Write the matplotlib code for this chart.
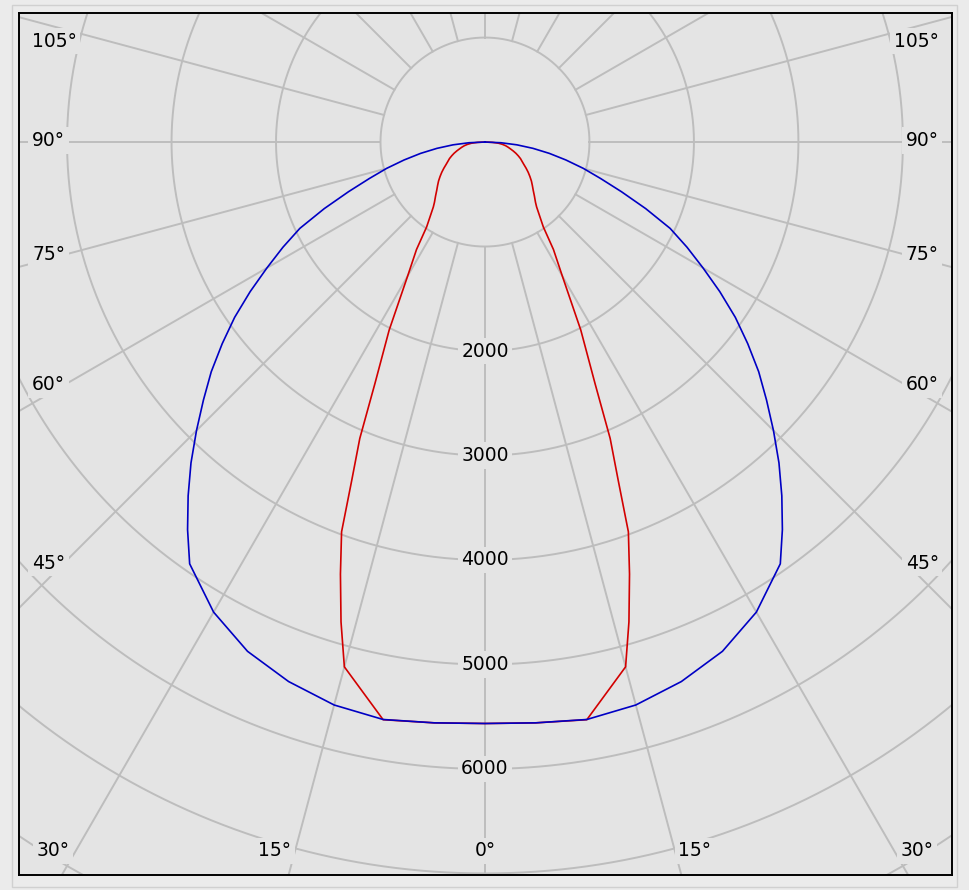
import numpy as np
import matplotlib.pyplot as plt
from matplotlib.patches import Rectangle

# luminous intensity (cd) against gamma angle (deg from nadir)
c0_gamma = [0, 5, 10, 15, 20, 25, 30, 35, 37.5, 40, 42.5, 45, 47.5, 50, 52.5, 55,
            57.5, 60, 62.5, 65, 67.5, 70, 72.5, 75, 77.5, 80, 82.5, 85, 87.5, 90]
c0_cd = [5565, 5580, 5612, 5578, 5495, 5378, 5195, 4928, 4676, 4420, 4165, 3905,
         3655, 3420, 3170, 2925, 2665, 2410, 2180, 1955, 1665, 1390, 1160, 975,
         793, 626, 464, 307, 153, 0]

c90_gamma = [0, 5, 10, 15, 16.7, 18.5, 20.2, 21.5, 22.9, 24.5, 27, 30, 32.5, 34.5,
             38.5, 40, 42.5, 45, 47.5, 50, 52.5, 55, 57.5, 60, 62.5, 65, 67.5, 70,
             72.5, 75, 77.5, 80, 82.5, 85, 87.5, 90]
c90_cd = [5565, 5580, 5614, 5200, 4795, 4360, 3975, 3479, 3079, 2540, 2020, 1480,
          1220, 986, 794, 752, 700, 653, 615, 580, 542, 505, 467, 430, 400, 375,
          345, 315, 283, 252, 226, 200, 168, 130, 70, 0]

ring_values = [1000, 2000, 3000, 4000, 5000, 6000, 7000, 8000, 9000]
ring_labels = [2000, 3000, 4000, 5000, 6000]
spoke_step = 15

# angle labels: text, x, y (cd units), alignment
angle_labels = [
    ('105°', -4335, 967, 'left'), ('105°', 4344, 967, 'right'),
    ('90°', -4335, 15, 'left'), ('90°', 4344, 15, 'right'),
    ('75°', -4335, -1072, 'left'), ('75°', 4344, -1072, 'right'),
    ('60°', -4335, -2325, 'left'), ('60°', 4344, -2325, 'right'),
    ('45°', -4335, -4029, 'left'), ('45°', 4344, -4029, 'right'),
    ('30°', -4134, -6785, 'center'), ('30°', 4134, -6785, 'center'),
    ('15°', -2010, -6785, 'center'), ('15°', 2010, -6785, 'center'),
    ('0°', 0, -6785, 'center'),
]

BG = '#e4e4e4'
GRID = '#bdbdbd'


def half_planes(gamma, cd):
    g = np.radians(gamma)
    I = np.asarray(cd, dtype=float)
    x = np.concatenate([-I[::-1] * np.sin(g[::-1]), I * np.sin(g)])
    y = np.concatenate([-I[::-1] * np.cos(g[::-1]), -I * np.cos(g)])
    return x, y


fig = plt.figure(figsize=(9.69, 8.90), dpi=100, facecolor='#ebebeb')
fig.add_artist(Rectangle((12 / 969, 3 / 890), 945 / 969, 882 / 890, transform=fig.transFigure,
                         fill=False, edgecolor='#d0d0d0', lw=1))
ax = fig.add_axes([19 / 969, 15 / 890, 933 / 969, 862 / 890])
ax.set_facecolor(BG)
ax.set_xlim(-4460, 4470)
ax.set_ylim(-7015, 1235)
ax.set_xticks([])
ax.set_yticks([])
for s in ax.spines.values():
    s.set_linewidth(1.4)
    s.set_color('black')

# polar grid
t = np.linspace(0, 2 * np.pi, 721)
for r in ring_values:
    ax.plot(r * np.cos(t), r * np.sin(t), color=GRID, lw=1.4, zorder=1)
for a in range(0, 360, spoke_step):
    rad = np.radians(a)
    ax.plot([1000 * np.sin(rad), 12000 * np.sin(rad)],
            [-1000 * np.cos(rad), -12000 * np.cos(rad)], color=GRID, lw=1.4, zorder=1)

box = dict(facecolor=BG, edgecolor='none', pad=2.5)
for v in ring_labels:
    ax.text(0, -v, str(v), ha='center', va='center', fontsize=13.5, bbox=box, zorder=3)
for txt, x, y, ha in angle_labels:
    ax.text(x, y, txt, ha=ha, va='center', fontsize=13.5, bbox=box, zorder=3)

# curves
xr, yr = half_planes(c90_gamma, c90_cd)
ax.plot(xr, yr, color='#d20000', lw=1.2, zorder=4)
xb, yb = half_planes(c0_gamma, c0_cd)
ax.plot(xb, yb, color='#0000c4', lw=1.2, zorder=5)

fig.savefig('out.png', dpi=100, facecolor=fig.get_facecolor())
